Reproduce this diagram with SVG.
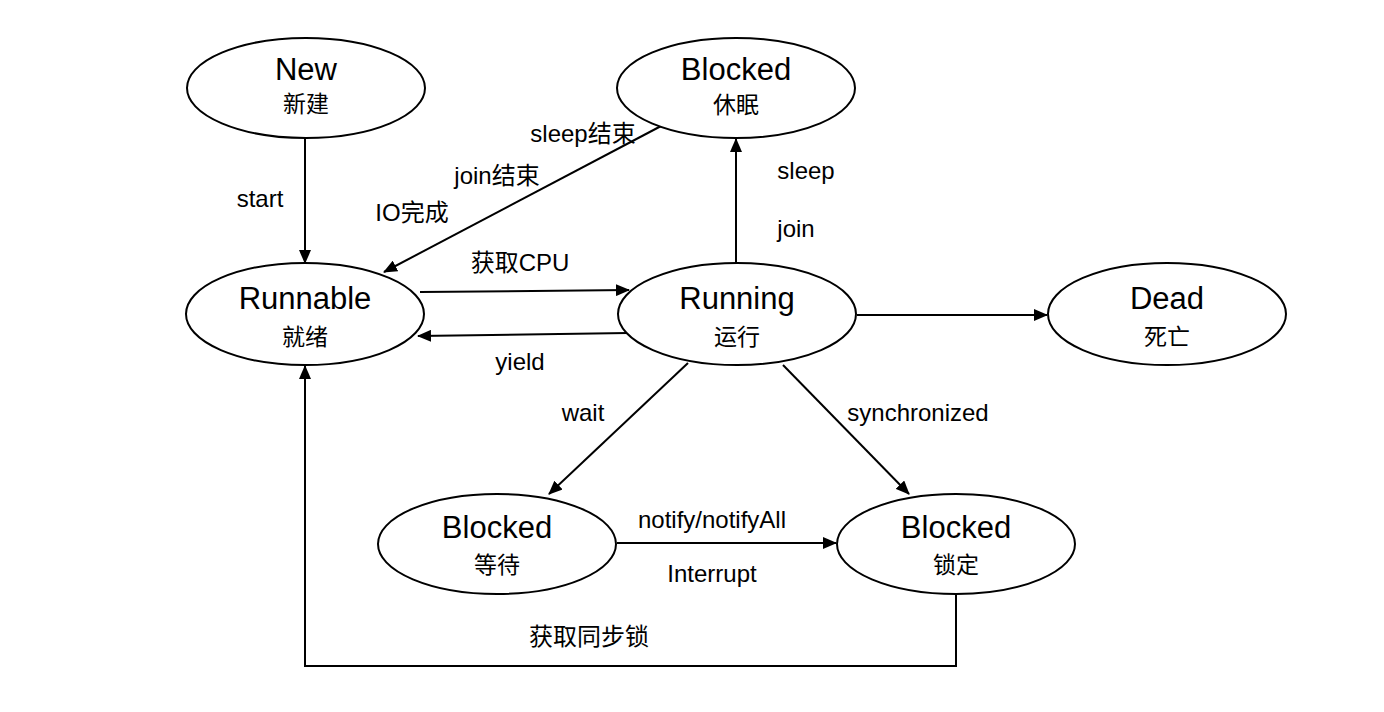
<svg xmlns="http://www.w3.org/2000/svg" width="1384" height="712" viewBox="0 0 1384 712">
<defs>
<marker id="arr" markerWidth="14" markerHeight="12" refX="13" refY="6" orient="auto" markerUnits="userSpaceOnUse">
<path d="M0,0 L14,6 L0,12 Z" fill="#000"/>
</marker>
<style>
.node ellipse{fill:#fff;stroke:#000;stroke-width:2}
.t{font-family:"Liberation Sans","Noto Sans CJK SC",sans-serif;font-size:31px;text-anchor:middle;fill:#000}
.s{font-family:"Liberation Sans","Noto Sans CJK SC",sans-serif;font-size:23px;text-anchor:middle;fill:#000}
.l{font-family:"Liberation Sans","Noto Sans CJK SC",sans-serif;font-size:24px;text-anchor:middle;fill:#000}
#edges path{fill:none;stroke:#000;stroke-width:2;marker-end:url(#arr)}
</style>
</defs>
<rect width="1384" height="712" fill="#fff"/>
<g id="edges">
<path d="M305,138 L305,263"/>
<path d="M663,125 L384,272"/>
<path d="M420,292 L629,290"/>
<path d="M628,333 L418,336"/>
<path d="M736,263 L736,139"/>
<path d="M857,315 L1047,315"/>
<path d="M688,363 L549,494"/>
<path d="M783,365 L909,494"/>
<path d="M617,543 L836,543"/>
<path d="M956,595 L956,666 L305,666 L305,366"/>
</g>
<g id="labels">
<text class="l" x="260" y="207">start</text>
<text class="l" x="583" y="142">sleep结束</text>
<text class="l" x="497" y="184">join结束</text>
<text class="l" x="412" y="221">IO完成</text>
<text class="l" x="520" y="271">获取CPU</text>
<text class="l" x="520" y="370">yield</text>
<text class="l" x="806" y="179">sleep</text>
<text class="l" x="796" y="237">join</text>
<text class="l" x="583" y="421">wait</text>
<text class="l" x="918" y="421">synchronized</text>
<text class="l" x="712" y="528">notify/notifyAll</text>
<text class="l" x="712" y="582">Interrupt</text>
<text class="l" x="589" y="645">获取同步锁</text>
</g>
<g id="node-new" class="node"><ellipse cx="306" cy="88" rx="119" ry="50"/><text class="t" x="306" y="80">New</text><text class="s" x="306" y="112">新建</text></g>
<g id="node-sleep" class="node"><ellipse cx="736" cy="88" rx="119" ry="50"/><text class="t" x="736" y="80">Blocked</text><text class="s" x="736" y="113">休眠</text></g>
<g id="node-runnable" class="node"><ellipse cx="305" cy="314" rx="119" ry="51"/><text class="t" x="305" y="309">Runnable</text><text class="s" x="305" y="345">就绪</text></g>
<g id="node-running" class="node"><ellipse cx="737" cy="314" rx="119" ry="51"/><text class="t" x="737" y="309">Running</text><text class="s" x="737" y="345">运行</text></g>
<g id="node-dead" class="node"><ellipse cx="1167" cy="314" rx="119" ry="51"/><text class="t" x="1167" y="309">Dead</text><text class="s" x="1167" y="345">死亡</text></g>
<g id="node-wait" class="node"><ellipse cx="497" cy="544" rx="119" ry="50"/><text class="t" x="497" y="538">Blocked</text><text class="s" x="497" y="573">等待</text></g>
<g id="node-lock" class="node"><ellipse cx="956" cy="544" rx="119" ry="50"/><text class="t" x="956" y="538">Blocked</text><text class="s" x="956" y="573">锁定</text></g>
</svg>
